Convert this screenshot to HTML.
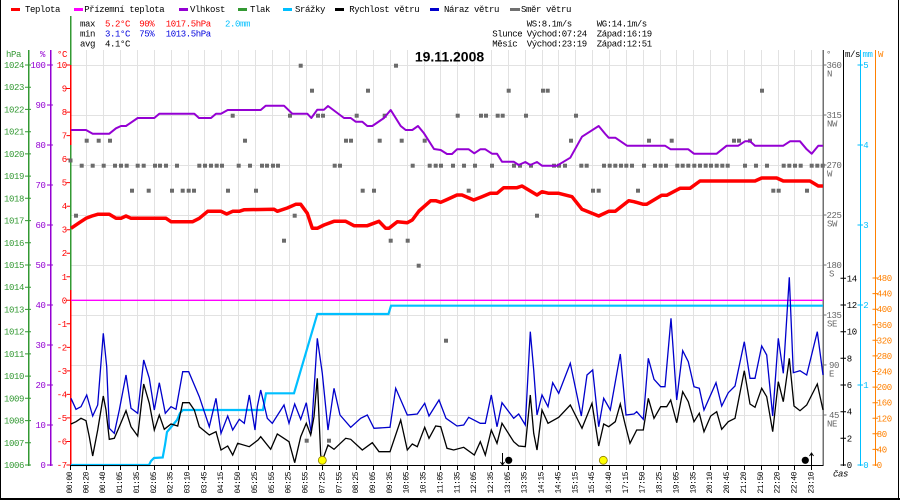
<!DOCTYPE html>
<html><head><meta charset="utf-8"><style>
html,body{margin:0;padding:0;background:#fff;}
svg{display:block;}
text{font-family:"Liberation Mono",monospace;font-size:9px;letter-spacing:-0.4px;}
.t{font-size:8px;letter-spacing:-0.5px;}
</style></head><body>
<svg width="900" height="500" viewBox="0 0 900 500" xmlns="http://www.w3.org/2000/svg">
<rect width="900" height="500" fill="#fff"/>
<!-- borders -->
<rect x="0" y="0" width="1" height="500" fill="#000"/>
<rect x="898" y="0" width="1" height="500" fill="#000"/>
<rect x="0" y="498" width="900" height="2" fill="#000"/>

<!-- legend -->
<g>
<rect x="11" y="8" width="9" height="3" fill="#ff0000"/><text x="25" y="12">Teplota</text>
<rect x="74" y="8" width="9" height="3" fill="#ff00ff"/><text x="84.3" y="12">Přízemní teplota</text>
<rect x="179" y="8" width="9" height="3" fill="#9400d3"/><text x="190" y="12">Vlhkost</text>
<rect x="238" y="8" width="9" height="3" fill="#339933"/><text x="250" y="12">Tlak</text>
<rect x="283" y="8" width="9" height="3" fill="#00bfff"/><text x="295" y="12">Srážky</text>
<rect x="335" y="8" width="9" height="3" fill="#000"/><text x="349.3" y="12">Rychlost větru</text>
<rect x="430" y="8" width="9" height="3" fill="#0000cc"/><text x="444" y="12">Náraz větru</text>
<rect x="510" y="8" width="10" height="3" fill="#707070"/><text x="521" y="12">Směr větru</text>
</g>

<!-- stats -->
<g>
<text x="80" y="26.7">max</text>
<text x="105" y="26.7" fill="#ff0000">5.2°C</text>
<text x="139.3" y="26.7" fill="#ff0000">90%</text>
<text x="165.7" y="26.7" fill="#ff0000">1017.5hPa</text>
<text x="225" y="26.7" fill="#00bfff">2.0mm</text>
<text x="80" y="36.7">min</text>
<text x="105" y="36.7" fill="#0000dd">3.1°C</text>
<text x="139.3" y="36.7" fill="#0000dd">75%</text>
<text x="165.7" y="36.7" fill="#0000dd">1013.5hPa</text>
<text x="80" y="46.7">avg</text>
<text x="105" y="46.7">4.1°C</text>
<text x="526.7" y="26.7">WS:8.1m/s</text>
<text x="596.7" y="26.7">WG:14.1m/s</text>
<text x="492.3" y="36.7">Slunce</text>
<text x="526.7" y="36.7">Východ:07:24</text>
<text x="596.7" y="36.7">Západ:16:19</text>
<text x="492.3" y="46.7">Měsíc</text>
<text x="526.7" y="46.7">Východ:23:19</text>
<text x="596.7" y="46.7">Západ:12:51</text>
</g>

<!-- grid -->
<g stroke="#e2e2e2" stroke-width="1" shape-rendering="crispEdges">
<path d="M70 65.5H823M70 115.5H823M70 165.5H823M70 215.5H823M70 265.5H823M70 315.5H823M70 365.5H823M70 415.5H823"/>
<path d="M86.5 50V465M103.5 50V465M120.5 50V465M137.5 50V465M154.5 50V465M171.5 50V465M188.5 50V465M204.5 50V465M221.5 50V465M238.5 50V465M255.5 50V465M272.5 50V465M289.5 50V465M306.5 50V465M322.5 50V465M339.5 50V465M356.5 50V465M373.5 50V465M390.5 50V465M407.5 50V465M424.5 50V465M440.5 50V465M457.5 50V465M474.5 50V465M491.5 50V465M508.5 50V465M525.5 50V465M542.5 50V465M558.5 50V465M575.5 50V465M592.5 50V465M609.5 50V465M626.5 50V465M643.5 50V465M660.5 50V465M676.5 50V465M693.5 50V465M710.5 50V465M727.5 50V465M744.5 50V465M761.5 50V465M778.5 50V465M794.5 50V465M811.5 50V465"/>
</g>

<!-- title -->
<text x="449.5" y="61.7" text-anchor="middle" style="font-family:'Liberation Sans',sans-serif;font-size:14px;font-weight:bold;letter-spacing:0">19.11.2008</text>

<!-- left axes -->
<g shape-rendering="crispEdges">
<rect x="28" y="50" width="1.3" height="416" fill="#339933"/>
<rect x="50" y="50" width="1.3" height="416" fill="#9400d3"/>
<rect x="69.8" y="16" width="1.5" height="450" fill="#339933"/>
<rect x="69.8" y="65" width="1.5" height="80" fill="#ff0000"/>
<rect x="69.8" y="290" width="1.5" height="176" fill="#ff0000"/>
</g>
<text x="6" y="57" fill="#339933">hPa</text>
<text x="40" y="57" fill="#9400d3">%</text>
<text x="57" y="57" fill="#ff0000">°C</text>
<path stroke="#339933" stroke-width="1" d="M25 465H31M25 442.8H31M25 420.6H31M25 398.3H31M25 376.1H31M25 353.9H31M25 331.7H31M25 309.4H31M25 287.2H31M25 265H31M25 242.8H31M25 220.6H31M25 198.3H31M25 176.1H31M25 153.9H31M25 131.7H31M25 109.4H31M25 87.2H31M25 65H31"/>
<g fill="#339933" text-anchor="end">
<text x="24" y="468">1006</text><text x="24" y="445.8">1007</text><text x="24" y="423.6">1008</text><text x="24" y="401.3">1009</text><text x="24" y="379.1">1010</text><text x="24" y="356.9">1011</text><text x="24" y="334.7">1012</text><text x="24" y="312.4">1013</text><text x="24" y="290.2">1014</text><text x="24" y="268">1015</text><text x="24" y="245.8">1016</text><text x="24" y="223.6">1017</text><text x="24" y="201.3">1018</text><text x="24" y="179.1">1019</text><text x="24" y="156.9">1020</text><text x="24" y="134.7">1021</text><text x="24" y="112.4">1022</text><text x="24" y="90.2">1023</text><text x="24" y="68">1024</text>
</g>
<path stroke="#9400d3" stroke-width="1" d="M47 465H53M47 425H53M47 385H53M47 345H53M47 305H53M47 265H53M47 225H53M47 185H53M47 145H53M47 105H53M47 65H53"/>
<g fill="#9400d3" text-anchor="end">
<text x="45.5" y="468">0</text><text x="45.5" y="428">10</text><text x="45.5" y="388">20</text><text x="45.5" y="348">30</text><text x="45.5" y="308">40</text><text x="45.5" y="268">50</text><text x="45.5" y="228">60</text><text x="45.5" y="188">70</text><text x="45.5" y="148">80</text><text x="45.5" y="108">90</text><text x="45.5" y="68">100</text>
</g>
<path stroke="#ff0000" stroke-width="1" d="M66.5 465H70M66.5 441.5H70M66.5 417.9H70M66.5 394.4H70M66.5 370.9H70M66.5 347.4H70M66.5 323.8H70M66.5 300.3H70M66.5 276.8H70M66.5 253.2H70M66.5 229.7H70M66.5 206.2H70M66.5 182.6H70M66.5 159.1H70M66.5 135.6H70M66.5 112.1H70M66.5 88.5H70M66.5 65H70"/>
<g fill="#ff0000" text-anchor="end">
<text x="66.8" y="468">-7</text><text x="66.8" y="444.5">-6</text><text x="66.8" y="420.9">-5</text><text x="66.8" y="397.4">-4</text><text x="66.8" y="373.9">-3</text><text x="66.8" y="350.4">-2</text><text x="66.8" y="326.8">-1</text><text x="66.8" y="303.3">0</text><text x="66.8" y="279.8">1</text><text x="66.8" y="256.2">2</text><text x="66.8" y="232.7">3</text><text x="66.8" y="209.2">4</text><text x="66.8" y="185.6">5</text><text x="66.8" y="162.1">6</text><text x="66.8" y="138.6">7</text><text x="66.8" y="115.1">8</text><text x="66.8" y="91.5">9</text><text x="66.8" y="68">10</text>
</g>

<!-- right axes -->
<g shape-rendering="crispEdges">
<rect x="822.7" y="50" width="1.4" height="416" fill="#707070"/>
<rect x="842.8" y="50" width="1.3" height="416" fill="#000"/>
<rect x="859.8" y="50" width="1.3" height="416" fill="#00bfff"/>
<rect x="874.8" y="50" width="1.3" height="416" fill="#ff8000"/>
</g>
<text x="826" y="57" fill="#666">°</text>
<text x="845" y="57" fill="#000">m/s</text>
<text x="862.5" y="57" fill="#00bfff">mm</text>
<text x="878" y="57" fill="#ff8000">W</text>
<path stroke="#707070" stroke-width="1" d="M823 65H826.5M823 115H826.5M823 165H826.5M823 215H826.5M823 265H826.5M823 315H826.5M823 365H826.5M823 415H826.5"/>
<g fill="#666">
<text x="826.5" y="68">360</text><text x="827" y="76.5">N</text>
<text x="826.5" y="118">315</text><text x="827" y="126.5">NW</text>
<text x="826.5" y="168">270</text><text x="827" y="176.5">W</text>
<text x="826.5" y="218">225</text><text x="827" y="226.5">SW</text>
<text x="826.5" y="268">180</text><text x="829" y="276.5">S</text>
<text x="826.5" y="318">135</text><text x="827" y="326.5">SE</text>
<text x="829" y="368">90</text><text x="829" y="376.5">E</text>
<text x="829" y="418">45</text><text x="827" y="426.5">NE</text>
</g>
<path stroke="#000" stroke-width="1" d="M840.5 465H846M840.5 438.3H846M840.5 411.7H846M840.5 385H846M840.5 358.3H846M840.5 331.7H846M840.5 305H846M840.5 278.3H846"/>
<g fill="#000">
<text x="846.7" y="468">0</text><text x="846.7" y="441.3">2</text><text x="846.7" y="414.7">4</text><text x="846.7" y="388">6</text><text x="846.7" y="361.3">8</text><text x="846.7" y="334.7">10</text><text x="846.7" y="308">12</text><text x="846.7" y="281.3">14</text>
</g>
<path stroke="#00bfff" stroke-width="1" d="M857.5 465H863M857.5 385H863M857.5 305H863M857.5 225H863M857.5 145H863M857.5 65H863"/>
<g fill="#00bfff">
<text x="863.3" y="468">0</text><text x="863.3" y="388">1</text><text x="863.3" y="308">2</text><text x="863.3" y="228">3</text><text x="863.3" y="148">4</text><text x="863.3" y="68">5</text>
</g>
<path stroke="#ff8000" stroke-width="1" d="M872.5 465H878M872.5 449.4H878M872.5 433.8H878M872.5 418.3H878M872.5 402.7H878M872.5 387.1H878M872.5 371.5H878M872.5 355.9H878M872.5 340.3H878M872.5 324.8H878M872.5 309.2H878M872.5 293.6H878M872.5 278H878"/>
<g fill="#ff8000">
<text x="876.7" y="468">0</text><text x="876.7" y="452.4">40</text><text x="876.7" y="436.8">80</text><text x="876.7" y="421.3">120</text><text x="876.7" y="405.7">160</text><text x="876.7" y="390.1">200</text><text x="876.7" y="374.5">240</text><text x="876.7" y="358.9">280</text><text x="876.7" y="343.3">320</text><text x="876.7" y="327.8">360</text><text x="876.7" y="312.2">400</text><text x="876.7" y="296.6">440</text><text x="876.7" y="281">480</text>
</g>
<text x="833" y="476.5" style="font-style:italic">čas</text>

<!-- dew point line -->
<path d="M71 300.3H823" stroke="#ff00ff" stroke-width="1.4" fill="none"/>

<!-- rain -->
<polyline fill="none" stroke="#00bfff" stroke-width="2.2" points="71,465 149,465 151,461 154,458 162.7,457.5 165,445 167,432 172,426 177,420 180,413 183,410 263,410 266,393.3 294,393.3 317.3,314 388.5,314 391,305.7 823,305.7"/>

<!-- direction squares -->
<g fill="#6b6b6b">
<!-- k16 -->
<rect x="298.7" y="63.7" width="4" height="4"/><rect x="394" y="63.7" width="4" height="4"/>
<!-- k15 -->
<rect x="310" y="88.7" width="4" height="4"/><rect x="366" y="88.7" width="4" height="4"/><rect x="506.7" y="88.7" width="4" height="4"/><rect x="541" y="88.7" width="4" height="4"/><rect x="545.7" y="88.7" width="4" height="4"/><rect x="760" y="88.7" width="4" height="4"/>
<!-- k14 -->
<rect x="230.7" y="113.7" width="4" height="4"/><rect x="288" y="113.7" width="4" height="4"/><rect x="316" y="113.7" width="4" height="4"/><rect x="321" y="113.7" width="4" height="4"/><rect x="354.7" y="113.7" width="4" height="4"/><rect x="382.7" y="113.7" width="4" height="4"/><rect x="455.7" y="113.7" width="4" height="4"/><rect x="479" y="113.7" width="4" height="4"/><rect x="484" y="113.7" width="4" height="4"/><rect x="495.7" y="113.7" width="4" height="4"/><rect x="500.7" y="113.7" width="4" height="4"/><rect x="524" y="113.7" width="4" height="4"/><rect x="574" y="113.7" width="4" height="4"/>
<!-- k13 -->
<rect x="84.7" y="138.7" width="4" height="4"/><rect x="96.7" y="138.7" width="4" height="4"/><rect x="108" y="138.7" width="4" height="4"/><rect x="243" y="138.7" width="4" height="4"/><rect x="344" y="138.7" width="4" height="4"/><rect x="349" y="138.7" width="4" height="4"/><rect x="377.7" y="138.7" width="4" height="4"/><rect x="399.7" y="138.7" width="4" height="4"/><rect x="422.7" y="138.7" width="4" height="4"/><rect x="569" y="138.7" width="4" height="4"/><rect x="647" y="138.7" width="4" height="4"/><rect x="669.7" y="138.7" width="4" height="4"/><rect x="732" y="138.7" width="4" height="4"/><rect x="737" y="138.7" width="4" height="4"/><rect x="748" y="138.7" width="4" height="4"/>
<!-- k12 -->
<rect x="68.5" y="158.5" width="4" height="4"/>
<rect x="79.7" y="163.7" width="4" height="4"/><rect x="90.7" y="163.7" width="4" height="4"/><rect x="101.7" y="163.7" width="4" height="4"/><rect x="113" y="163.7" width="4" height="4"/><rect x="119" y="163.7" width="4" height="4"/><rect x="124.7" y="163.7" width="4" height="4"/><rect x="135.7" y="163.7" width="4" height="4"/><rect x="141.7" y="163.7" width="4" height="4"/><rect x="153" y="163.7" width="4" height="4"/><rect x="158" y="163.7" width="4" height="4"/><rect x="164" y="163.7" width="4" height="4"/><rect x="175" y="163.7" width="4" height="4"/><rect x="197.3" y="163.7" width="4" height="4"/><rect x="203" y="163.7" width="4" height="4"/><rect x="209" y="163.7" width="4" height="4"/><rect x="214.7" y="163.7" width="4" height="4"/><rect x="220" y="163.7" width="4" height="4"/><rect x="236.7" y="163.7" width="4" height="4"/><rect x="248" y="163.7" width="4" height="4"/><rect x="260" y="163.7" width="4" height="4"/><rect x="265" y="163.7" width="4" height="4"/><rect x="271" y="163.7" width="4" height="4"/><rect x="276" y="163.7" width="4" height="4"/><rect x="332.7" y="163.7" width="4" height="4"/><rect x="338" y="163.7" width="4" height="4"/><rect x="410.7" y="163.7" width="4" height="4"/><rect x="427.7" y="163.7" width="4" height="4"/><rect x="433.7" y="163.7" width="4" height="4"/><rect x="439" y="163.7" width="4" height="4"/><rect x="451" y="163.7" width="4" height="4"/><rect x="462" y="163.7" width="4" height="4"/><rect x="473" y="163.7" width="4" height="4"/><rect x="490" y="163.7" width="4" height="4"/><rect x="512" y="163.7" width="4" height="4"/><rect x="518" y="163.7" width="4" height="4"/><rect x="529" y="163.7" width="4" height="4"/><rect x="552" y="163.7" width="4" height="4"/><rect x="557" y="163.7" width="4" height="4"/><rect x="563" y="163.7" width="4" height="4"/><rect x="579.3" y="163.7" width="4" height="4"/><rect x="584.7" y="163.7" width="4" height="4"/><rect x="602" y="163.7" width="4" height="4"/><rect x="607.7" y="163.7" width="4" height="4"/><rect x="613.3" y="163.7" width="4" height="4"/><rect x="619" y="163.7" width="4" height="4"/><rect x="624.3" y="163.7" width="4" height="4"/><rect x="630" y="163.7" width="4" height="4"/><rect x="642" y="163.7" width="4" height="4"/><rect x="653" y="163.7" width="4" height="4"/><rect x="658.7" y="163.7" width="4" height="4"/><rect x="664" y="163.7" width="4" height="4"/><rect x="675.3" y="163.7" width="4" height="4"/><rect x="680.7" y="163.7" width="4" height="4"/><rect x="686.3" y="163.7" width="4" height="4"/><rect x="692.3" y="163.7" width="4" height="4"/><rect x="698" y="163.7" width="4" height="4"/><rect x="703.7" y="163.7" width="4" height="4"/><rect x="709" y="163.7" width="4" height="4"/><rect x="714.7" y="163.7" width="4" height="4"/><rect x="720.3" y="163.7" width="4" height="4"/><rect x="725.7" y="163.7" width="4" height="4"/><rect x="743" y="163.7" width="4" height="4"/><rect x="754" y="163.7" width="4" height="4"/><rect x="765" y="163.7" width="4" height="4"/><rect x="781.7" y="163.7" width="4" height="4"/><rect x="787.3" y="163.7" width="4" height="4"/><rect x="793" y="163.7" width="4" height="4"/><rect x="798.7" y="163.7" width="4" height="4"/><rect x="809.7" y="163.7" width="4" height="4"/><rect x="815.3" y="163.7" width="4" height="4"/><rect x="820.7" y="163.7" width="4" height="4"/>
<!-- k11 -->
<rect x="130" y="188.7" width="4" height="4"/><rect x="146.7" y="188.7" width="4" height="4"/><rect x="170" y="188.7" width="4" height="4"/><rect x="180.7" y="188.7" width="4" height="4"/><rect x="186.7" y="188.7" width="4" height="4"/><rect x="192" y="188.7" width="4" height="4"/><rect x="226" y="188.7" width="4" height="4"/><rect x="254" y="188.7" width="4" height="4"/><rect x="360.7" y="188.7" width="4" height="4"/><rect x="372" y="188.7" width="4" height="4"/><rect x="466.7" y="188.7" width="4" height="4"/><rect x="591" y="188.7" width="4" height="4"/><rect x="596.7" y="188.7" width="4" height="4"/><rect x="636" y="188.7" width="4" height="4"/><rect x="771.3" y="188.7" width="4" height="4"/><rect x="776.7" y="188.7" width="4" height="4"/><rect x="805" y="188.7" width="4" height="4"/>
<!-- k10 -->
<rect x="74" y="213.7" width="4" height="4"/><rect x="292.7" y="213.7" width="4" height="4"/><rect x="535" y="213.7" width="4" height="4"/>
<!-- k9 -->
<rect x="282" y="238.7" width="4" height="4"/><rect x="388.7" y="238.7" width="4" height="4"/><rect x="405.7" y="238.7" width="4" height="4"/>
<!-- k8 -->
<rect x="416.7" y="263.7" width="4" height="4"/>
<!-- k5 -->
<rect x="444" y="338.7" width="4" height="4"/>
<!-- k1 -->
<rect x="304.7" y="438.7" width="4" height="4"/><rect x="327" y="438.7" width="4" height="4"/>
</g>

<!-- humidity -->
<polyline fill="none" stroke="#9400d3" stroke-width="2" stroke-linejoin="round" points="71,130 86,130 92.7,133.7 109.3,133.7 116,128.3 121,126 126,126 137.7,118 154.3,118 159.3,113.7 194.3,113.7 199,118 211,118 216,113.7 221,113.7 227.7,110 260.7,110 265.7,105.7 284,105.7 292.3,113.7 307.3,113.7 311.3,118 317.3,109.7 324,109.7 328,106 344,118 350.7,118 355.7,121.7 362.3,121.7 367.3,126 372.3,126 384,118 390.7,110 400.7,126 405.7,130 412.3,130 418,126 424,133.3 434,149 440.7,150 447,154 452,154 457,149.3 468.7,149.3 474.3,153.3 480.3,149.3 485.3,149.3 492,153.7 497,153.7 502,161.7 513.7,161.7 518.7,165 525.3,162 530.3,165 537,162 542,165.7 557,165.7 570.3,157.7 582,136.7 598.7,126 605.3,134 608.7,137.7 615.3,137.7 627,145.7 665,145.7 670.7,149.3 688.3,149.3 694,153.7 716.7,153.7 726.7,145.7 738.3,145.7 745,141.3 750,141.3 755,145.7 783.3,145.7 790,141.3 800,141.3 806.7,149.3 811.7,153.7 818.3,145.7 823,145.7"/>

<!-- temperature -->
<polyline fill="none" stroke="#ff0000" stroke-width="3.5" stroke-linejoin="round" points="71,228.3 79.3,222.7 86,218.3 92,216 97.7,214.3 109.3,214.3 116,218.3 121,218.3 126,216 131,218.3 166,218.3 171,221.7 192.7,221.7 199.3,218.3 207.7,211.3 221,211.3 226.7,214 232.7,211.3 239.3,211.3 244.3,209.7 274,209.3 277.3,211.3 287.3,208 295.7,204.3 300.7,204.3 307.3,213.3 312.3,228.3 317.3,228.3 324,225 334,221.3 345.7,221.3 354,225.7 367.3,225.7 379,221.3 385.7,228.3 389,228.3 397.3,221.7 407.3,222.7 412.3,220 419,211 430.7,200.7 435.7,200.7 440.7,202.3 446,200 457,195 462,195 473.7,200 482,196.7 490.3,193.3 497,193.3 503.7,187.7 517,187.7 522,186 537,195 542,191.7 548.7,193.3 558.7,193.3 572,196.7 582,209.3 598.7,216 608.7,211.3 615.3,211.3 628.7,200.7 634,201.7 643.3,204.3 646.7,204.3 661.7,195.3 666.7,195.3 680,188.3 690,188.3 700,181 755,181 761.7,178 776.7,178 783.3,181 810,181 818.3,186 823,186"/>

<!-- gust -->
<polyline fill="none" stroke="#0000cc" stroke-width="1.3" points="71,398.3 76,409.3 81,406.7 86.7,395 92.7,416 97.7,405 103.3,333.3 106.7,366.7 109.3,428.3 114.3,433.3 119.3,410 126,375 131,408.3 137.7,413.3 143.7,360 149.3,378.3 154.3,410 159.3,382.7 165.3,413.3 171,406.7 176,409.3 182.7,371.7 188.7,371.7 199.3,396.7 209.3,426.7 216,398.3 221,433.3 227.7,416 232.7,430 239.3,419.3 244.3,423.3 249.3,395 255,430 257.3,406.7 260.7,390 267.3,418.3 272.3,423.3 284,405 289,423.3 294.7,404 300.7,419.3 306.3,402.7 311.3,433.3 317.3,338.3 322.3,373.3 328,430 334,388.3 340,415 350.7,427.3 360.7,418.3 367.3,415 374,428.3 390,427.3 395.7,388.3 407.3,415 417.3,414 424.7,403.3 429,416 439,400 446,418.3 457,426 463.7,425 468.7,417.3 480.3,423.3 485.3,423.3 491.3,395 497,426.7 502,402.7 513.7,418.3 518.7,414 525.3,425 530.3,331.7 533.7,370 537,415 542,395 548,406.7 552.7,382.7 558.7,393.3 570.3,363.3 581.3,416 587,375 592.7,370 598.7,426.7 603.7,398.3 610.3,410 620.3,354 626,415 634,414 636.7,411.7 643.3,419.3 648.3,358.3 654,379.3 660.7,386.7 665,386.7 671,318.3 676.7,400 682.7,350.7 688.3,361.7 694,386.7 699.3,388.3 704,410 716,382.7 721.7,406 728.3,392.7 735,386 744.3,341.7 750,378.3 755,378.3 761.7,346 766.7,355 772.7,416 778.3,338.3 783.3,373.3 789.3,277.3 793.3,372.7 800,370.7 806.7,375 817.3,331.7 823,375"/>

<!-- wind speed -->
<polyline fill="none" stroke="#000" stroke-width="1.3" points="71,424 76,421.7 81,418.3 86,420.7 89.3,436.7 92.7,456 97.7,430 103.3,396 106,410 109.3,439.3 114.3,438.3 119.3,426.7 126,410.7 131,426.7 137.7,436 143.7,384 149.3,403.3 154.3,430 159.3,415 164.3,429.3 171,424 177.7,426 182.7,402.7 189.3,402.7 194.3,410 199.3,426.7 209.3,435 216,431.7 221,450 227.7,446 232.7,455 237.7,443.3 249.3,446.7 258,440 260.7,436.7 270.7,449.3 277.3,434 289,441.7 294.7,462.7 300.7,436.7 306.3,423.3 310.7,435 314,416.7 317.3,378.3 320.7,455 322.3,460.7 328,445 334,449.3 345.7,438.3 350.7,439.3 362.3,450 372.3,442.7 379,451.7 390,451.7 400.7,420 407.3,450 412.3,444 417.3,446.7 424.7,427.3 429,438.3 435.7,426 440.7,426.7 447,448.3 453.7,450 463.7,447.3 474.3,455 480.3,441.7 485.3,455 491.3,430 497,443.3 502,423.3 513.7,441.7 518.7,446 525.3,446.7 530.3,395 533.7,433.3 537,450 542,410 548,423.3 558.7,417.3 570.3,405 582,428.3 592,403.3 598.7,446 603.7,424 608.7,426.7 615.3,421.7 620.3,404 625.3,425 630,443.3 636.7,430 643.3,430 648.3,398.3 654,418.3 660.7,406.7 666.7,406.7 670.7,400 676.7,422.7 682.7,391.7 688.3,401.7 694,421.7 699.3,413.3 704,431.7 710.7,416 716.7,411.7 721.7,429.3 728.3,421.7 735,418.3 744.3,370.7 750,404 755,407.3 761.7,388.3 766.7,396.7 772.7,431.7 778.3,381.7 783.3,401.7 789.3,358.3 794,406 800,410.7 806.7,405 817.3,384 823,410"/>

<!-- bottom axis -->
<rect x="70" y="465" width="753" height="1.2" fill="#000" shape-rendering="crispEdges"/>
<path stroke="#000" stroke-width="1" shape-rendering="crispEdges" d="M70.5 465V470M86.5 465V470M103.5 465V470M120.5 465V470M137.5 465V470M154.5 465V470M171.5 465V470M188.5 465V470M204.5 465V470M221.5 465V470M238.5 465V470M255.5 465V470M272.5 465V470M289.5 465V470M306.5 465V470M322.5 465V470M339.5 465V470M356.5 465V470M373.5 465V470M390.5 465V470M407.5 465V470M424.5 465V470M440.5 465V470M457.5 465V470M474.5 465V470M491.5 465V470M508.5 465V470M525.5 465V470M542.5 465V470M558.5 465V470M575.5 465V470M592.5 465V470M609.5 465V470M626.5 465V470M643.5 465V470M660.5 465V470M676.5 465V470M693.5 465V470M710.5 465V470M727.5 465V470M744.5 465V470M761.5 465V470M778.5 465V470M794.5 465V470M811.5 465V470"/>

<!-- markers -->
<circle cx="322.3" cy="460.3" r="4" fill="#ffff00" stroke="#8a7a00" stroke-width="0.8"/>
<circle cx="603.3" cy="460.3" r="4" fill="#ffff00" stroke="#8a7a00" stroke-width="0.8"/>
<circle cx="508.7" cy="460.3" r="3.6" fill="#000"/>
<circle cx="805.3" cy="460.3" r="3.6" fill="#000"/>
<path d="M502.5 453V465M500.5 462L502.5 465L504.5 462" stroke="#000" stroke-width="1" fill="none"/>
<path d="M811.5 465V453M809.5 456L811.5 453L813.5 456" stroke="#000" stroke-width="1" fill="none"/>

<!-- time labels -->
<g class="tl">
<text class="t" text-anchor="end" dominant-baseline="central" transform="translate(70.5,472) rotate(-90)">00:00</text>
<text class="t" text-anchor="end" dominant-baseline="central" transform="translate(86.9,472) rotate(-90)">00:20</text>
<text class="t" text-anchor="end" dominant-baseline="central" transform="translate(103.7,472) rotate(-90)">00:40</text>
<text class="t" text-anchor="end" dominant-baseline="central" transform="translate(120.6,472) rotate(-90)">01:05</text>
<text class="t" text-anchor="end" dominant-baseline="central" transform="translate(137.4,472) rotate(-90)">01:35</text>
<text class="t" text-anchor="end" dominant-baseline="central" transform="translate(154.3,472) rotate(-90)">02:05</text>
<text class="t" text-anchor="end" dominant-baseline="central" transform="translate(171.2,472) rotate(-90)">02:35</text>
<text class="t" text-anchor="end" dominant-baseline="central" transform="translate(188,472) rotate(-90)">03:10</text>
<text class="t" text-anchor="end" dominant-baseline="central" transform="translate(204.9,472) rotate(-90)">03:45</text>
<text class="t" text-anchor="end" dominant-baseline="central" transform="translate(221.7,472) rotate(-90)">04:15</text>
<text class="t" text-anchor="end" dominant-baseline="central" transform="translate(238.6,472) rotate(-90)">04:50</text>
<text class="t" text-anchor="end" dominant-baseline="central" transform="translate(255.5,472) rotate(-90)">05:25</text>
<text class="t" text-anchor="end" dominant-baseline="central" transform="translate(272.3,472) rotate(-90)">05:55</text>
<text class="t" text-anchor="end" dominant-baseline="central" transform="translate(289.2,472) rotate(-90)">06:25</text>
<text class="t" text-anchor="end" dominant-baseline="central" transform="translate(306,472) rotate(-90)">06:55</text>
<text class="t" text-anchor="end" dominant-baseline="central" transform="translate(322.9,472) rotate(-90)">07:25</text>
<text class="t" text-anchor="end" dominant-baseline="central" transform="translate(339.8,472) rotate(-90)">07:55</text>
<text class="t" text-anchor="end" dominant-baseline="central" transform="translate(356.6,472) rotate(-90)">08:25</text>
<text class="t" text-anchor="end" dominant-baseline="central" transform="translate(373.5,472) rotate(-90)">09:05</text>
<text class="t" text-anchor="end" dominant-baseline="central" transform="translate(390.3,472) rotate(-90)">09:35</text>
<text class="t" text-anchor="end" dominant-baseline="central" transform="translate(407.2,472) rotate(-90)">10:05</text>
<text class="t" text-anchor="end" dominant-baseline="central" transform="translate(424.1,472) rotate(-90)">10:35</text>
<text class="t" text-anchor="end" dominant-baseline="central" transform="translate(440.9,472) rotate(-90)">11:05</text>
<text class="t" text-anchor="end" dominant-baseline="central" transform="translate(457.8,472) rotate(-90)">11:35</text>
<text class="t" text-anchor="end" dominant-baseline="central" transform="translate(474.6,472) rotate(-90)">12:05</text>
<text class="t" text-anchor="end" dominant-baseline="central" transform="translate(491.5,472) rotate(-90)">12:35</text>
<text class="t" text-anchor="end" dominant-baseline="central" transform="translate(508.4,472) rotate(-90)">13:05</text>
<text class="t" text-anchor="end" dominant-baseline="central" transform="translate(525.2,472) rotate(-90)">13:35</text>
<text class="t" text-anchor="end" dominant-baseline="central" transform="translate(542.1,472) rotate(-90)">14:15</text>
<text class="t" text-anchor="end" dominant-baseline="central" transform="translate(558.9,472) rotate(-90)">14:45</text>
<text class="t" text-anchor="end" dominant-baseline="central" transform="translate(575.8,472) rotate(-90)">15:15</text>
<text class="t" text-anchor="end" dominant-baseline="central" transform="translate(592.7,472) rotate(-90)">15:45</text>
<text class="t" text-anchor="end" dominant-baseline="central" transform="translate(609.5,472) rotate(-90)">16:40</text>
<text class="t" text-anchor="end" dominant-baseline="central" transform="translate(626.4,472) rotate(-90)">17:15</text>
<text class="t" text-anchor="end" dominant-baseline="central" transform="translate(643.2,472) rotate(-90)">17:50</text>
<text class="t" text-anchor="end" dominant-baseline="central" transform="translate(660.1,472) rotate(-90)">18:25</text>
<text class="t" text-anchor="end" dominant-baseline="central" transform="translate(677,472) rotate(-90)">19:05</text>
<text class="t" text-anchor="end" dominant-baseline="central" transform="translate(693.8,472) rotate(-90)">19:35</text>
<text class="t" text-anchor="end" dominant-baseline="central" transform="translate(710.7,472) rotate(-90)">20:10</text>
<text class="t" text-anchor="end" dominant-baseline="central" transform="translate(727.5,472) rotate(-90)">20:45</text>
<text class="t" text-anchor="end" dominant-baseline="central" transform="translate(744.4,472) rotate(-90)">21:20</text>
<text class="t" text-anchor="end" dominant-baseline="central" transform="translate(761.3,472) rotate(-90)">21:50</text>
<text class="t" text-anchor="end" dominant-baseline="central" transform="translate(778.1,472) rotate(-90)">22:20</text>
<text class="t" text-anchor="end" dominant-baseline="central" transform="translate(795,472) rotate(-90)">22:40</text>
<text class="t" text-anchor="end" dominant-baseline="central" transform="translate(811.8,472) rotate(-90)">23:10</text>
</g>
</svg>
</body></html>
